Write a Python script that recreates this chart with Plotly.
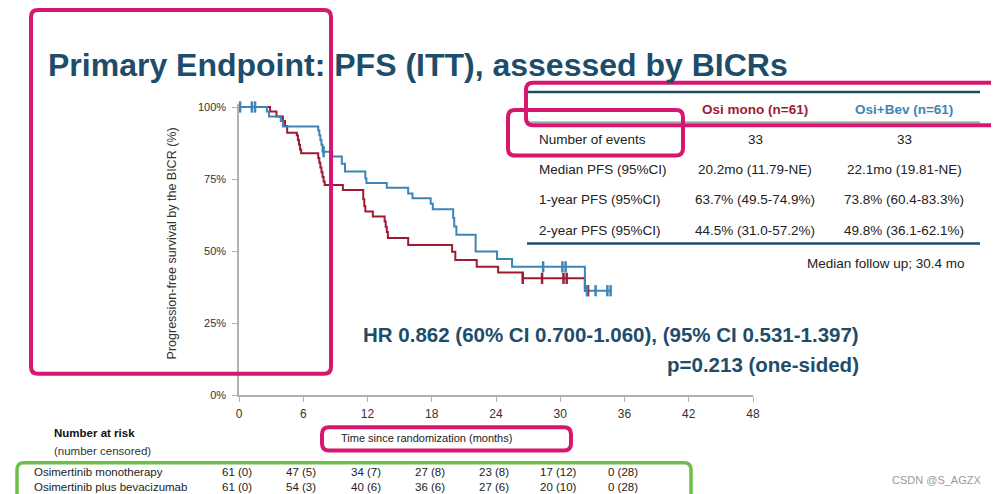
import plotly.graph_objects as go

# ---------------- data ----------------
mono_t = [0, 2.9, 3.5, 4.1, 4.3, 4.5, 5.4, 5.5, 5.6, 5.7, 5.8, 7.4, 7.5, 7.6, 7.7, 7.8, 7.9, 8.0,
          9.7, 11.6, 11.7, 11.8, 12.5, 13.6, 13.7, 13.8, 13.9, 15.8, 19.9, 20.2, 22.2, 24.2, 26.5, 32.3, 32.6]
mono_s = [100, 98.4, 96.7, 95.1, 93.4, 91.1, 90.2, 88.5, 86.9, 85.2, 83.9, 82.3, 80.6, 79.0, 77.3, 75.7, 74.1, 72.9,
          71.2, 68.0, 65.5, 63.7, 62.0, 60.2, 58.4, 56.6, 54.5, 52.1, 49.7, 46.9, 44.5, 42.5, 40.5, 36.2, 36.2]
bev_t = [0, 2.6, 2.8, 3.9, 4.1, 7.4, 7.5, 7.6, 7.7, 7.8, 8.7, 9.6, 9.9, 11.8, 11.9, 13.8, 15.8, 16.2,
         17.9, 18.1, 20.0, 20.1, 20.3, 22.1, 24.1, 25.5, 32.3, 34.7]
bev_s = [100, 98.4, 96.7, 95.1, 93.2, 91.8, 90.2, 88.5, 86.9, 84.5, 82.8, 80.3, 77.6, 75.2, 73.6, 72.0, 70.0, 68.3,
         66.4, 64.5, 61.5, 58.5, 55.6, 49.8, 47.2, 44.5, 36.2, 36.2]
mono_cens_t = [26.5, 28.3, 30.3, 30.6, 32.6]
mono_cens_s = [40.5, 40.5, 40.5, 40.5, 36.2]
bev_cens_t = [0.1, 1.2, 1.5, 7.9, 28.4, 30.2, 30.5, 32.5, 33.3, 34.4, 34.7]
bev_cens_s = [100, 100, 100, 84.5, 44.5, 44.5, 44.5, 36.2, 36.2, 36.2, 36.2]

x_ticks = [0, 6, 12, 18, 24, 30, 36, 42, 48]
y_ticks = [0, 25, 50, 75, 100]
y_ticktext = ["0%", "25%", "50%", "75%", "100%"]

risk_t = [0, 6, 12, 18, 24, 30, 36]
risk_mono = ["61 (0)", "47 (5)", "34 (7)", "27 (8)", "23 (8)", "17 (12)", "0 (28)"]
risk_bev = ["61 (0)", "54 (3)", "40 (6)", "36 (6)", "27 (6)", "20 (10)", "0 (28)"]

table_cols = ["Osi mono (n=61)", "Osi+Bev (n=61)"]
table_rows = ["Number of events", "Median PFS (95%CI)", "1-year PFS (95%CI)", "2-year PFS (95%CI)"]
table_mono = ["33", "20.2mo (11.79-NE)", "63.7% (49.5-74.9%)", "44.5% (31.0-57.2%)"]
table_bev = ["33", "22.1mo (19.81-NE)", "73.8% (60.4-83.3%)", "49.8% (36.1-62.1%)"]

# ---------------- styling ----------------
RED = "#9e1b32"
BLUE = "#3d85b5"
TEAL = "#1d4d6b"
PINK = "#d6166f"
GREEN = "#6cc04a"
FONT = "Liberation Sans"

OFF = 8                            # page body margin of the browser
L, R, T, B = 239, 753, 107, 395    # plot area in screenshot pixels
W, H = 999 - OFF, 494 - OFF


def px(x):
    return (x - L) / (R - L)


def py(y):
    return (B - y) / (B - T)


fig = go.Figure()
fig.add_trace(go.Scatter(x=mono_t, y=mono_s, mode="lines", line=dict(color=RED, width=2, shape="hv"),
                         showlegend=False, hoverinfo="skip"))
fig.add_trace(go.Scatter(x=bev_t, y=bev_s, mode="lines", line=dict(color=BLUE, width=2, shape="hv"),
                         showlegend=False, hoverinfo="skip"))
fig.add_trace(go.Scatter(x=mono_cens_t, y=mono_cens_s, mode="markers",
                         marker=dict(symbol="line-ns-open", size=8, color=RED, line=dict(color=RED, width=2.5)),
                         showlegend=False, hoverinfo="skip", cliponaxis=False))
fig.add_trace(go.Scatter(x=bev_cens_t, y=bev_cens_s, mode="markers",
                         marker=dict(symbol="line-ns-open", size=8, color=BLUE, line=dict(color=BLUE, width=2.5)),
                         showlegend=False, hoverinfo="skip", cliponaxis=False))

ann = []


def text(x, y, s, size, color="#222", bold=False, xanchor="left", yanchor="middle", xref="paper", textangle=0,
         xshift=0):
    if bold:
        s = "<b>" + s + "</b>"
    ann.append(dict(x=x, y=y, xref=xref, yref="paper", text=s, showarrow=False, xanchor=xanchor,
                    yanchor=yanchor, textangle=textangle, xshift=xshift,
                    font=dict(family=FONT, size=size, color=color)))


# title
text(px(46), py(68), "Primary Endpoint: PFS (ITT), assessed by BICRs", 32, TEAL, bold=True)

# y-axis title
text(px(172), py(245), "Progression-free survival by the BICR (%)", 12.5, "#333", xanchor="center",
     textangle=-90)

# HR text
text(px(861), py(335), "HR 0.862 (60% CI 0.700-1.060), (95% CI 0.531-1.397)", 20.5, TEAL, bold=True,
     xanchor="right")
text(px(861), py(365), "p=0.213 (one-sided)", 20.5, TEAL, bold=True, xanchor="right")

# table
col_x = [755, 904]
col_colors = [RED, BLUE]
for cx, c, cc in zip(col_x, table_cols, col_colors):
    text(px(cx), py(112), c, 13.5, cc, bold=True, xanchor="center")
row_y = [142, 172, 202, 232]
for ry, lab, vm, vb in zip(row_y, table_rows, table_mono, table_bev):
    text(px(537), py(ry), lab, 13.5, "#222")
    text(px(col_x[0]), py(ry), vm, 13.5, "#222", xanchor="center")
    text(px(col_x[1]), py(ry), vb, 13.5, "#222", xanchor="center")
text(px(967), py(265), "Median follow up; 30.4 mo", 13.5, "#222", xanchor="right")

# x-axis title
text(px(426), py(438), "Time since randomization (months)", 11, "#222", xanchor="center")

# number at risk
text(px(52), py(433), "Number at risk", 11.5, "#111", bold=True)
text(px(52), py(450), "(number censored)", 11.5, "#333")
text(px(32), py(471), "Osimertinib monotherapy", 11.5, "#222")
text(px(32), py(486), "Osimertinib plus bevacizumab", 11.5, "#222")
for t, a, b in zip(risk_t, risk_mono, risk_bev):
    text(t, py(471), a, 11.5, "#222", xanchor="center", xref="x", xshift=-2)
    text(t, py(486), b, 11.5, "#222", xanchor="center", xref="x", xshift=-2)

# watermark
text(px(983), py(479), "CSDN @S_AGZX", 11, "#9a9a9a", xanchor="right")

shapes = []
# table rules
shapes.append(dict(type="line", xref="paper", yref="paper", x0=px(527), x1=px(980), y0=py(95), y1=py(95),
                   line=dict(color=TEAL, width=2.5)))
shapes.append(dict(type="line", xref="paper", yref="paper", x0=px(527), x1=px(980), y0=py(125), y1=py(125),
                   line=dict(color="#8a8a8a", width=1.2)))
shapes.append(dict(type="line", xref="paper", yref="paper", x0=px(527), x1=px(980), y0=py(245), y1=py(245),
                   line=dict(color=TEAL, width=2.5)))


def rrect(x0, y0, x1, y1, r=7):
    pts = [("M", [(x0 + r, y0)]), ("L", [(x1 - r, y0)]), ("Q", [(x1, y0), (x1, y0 + r)]),
           ("L", [(x1, y1 - r)]), ("Q", [(x1, y1), (x1 - r, y1)]), ("L", [(x0 + r, y1)]),
           ("Q", [(x0, y1), (x0, y1 - r)]), ("L", [(x0, y0 + r)]), ("Q", [(x0, y0), (x0 + r, y0)])]
    s = ""
    for cmd, ps in pts:
        s += cmd + " " + " ".join("%.5f,%.5f" % (px(a), py(b)) for a, b in ps) + " "
    return s + "Z"


for (x0, y0, x1, y1), col, w in [((31, 14, 331, 374), PINK, 4), ((526, 86, 1012, 128), PINK, 4),
                                 ((508, 113, 683, 158), PINK, 4), ((322, 427, 571, 450), PINK, 4),
                                 ((17, 462, 691, 500), GREEN, 3.5)]:
    shapes.append(dict(type="path", xref="paper", yref="paper", path=rrect(x0, y0, x1, y1),
                       line=dict(color=col, width=w), layer="above"))

fig.update_layout(
    width=W, height=H, autosize=False,
    margin=dict(l=L - OFF, r=(W + OFF) - R, t=T - OFF - 3, b=(H + OFF) - B),
    paper_bgcolor="white", plot_bgcolor="white",
    showlegend=False,
    annotations=ann, shapes=shapes,
    xaxis=dict(range=[0, 48], tickvals=x_ticks, showline=True, linecolor="#b0b0b0", linewidth=1.5,
               ticks="outside", ticklen=5, tickcolor="#b0b0b0", showgrid=False, zeroline=False,
               tickfont=dict(family=FONT, size=12, color="#333"), ticklabelstandoff=2),
    yaxis=dict(range=[0, 101.04], tickvals=y_ticks, ticktext=y_ticktext, showline=True, linecolor="#b0b0b0",
               linewidth=1.5, ticks="outside", ticklen=5, tickcolor="#b0b0b0", showgrid=False, zeroline=False,
               tickfont=dict(family=FONT, size=11, color="#333"), ticklabelstandoff=4),
)

fig.write_html("out.html")
